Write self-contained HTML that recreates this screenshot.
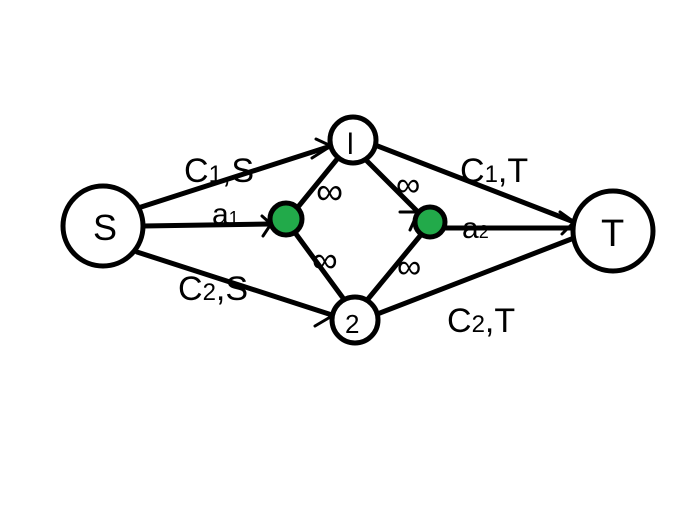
<!DOCTYPE html>
<html><head><style>html,body{margin:0;padding:0;background:#fff;width:698px;height:522px;overflow:hidden}</style></head>
<body>
<svg width="698" height="522" viewBox="0 0 698 522" xmlns="http://www.w3.org/2000/svg">
<g stroke="#000" stroke-width="5" fill="none" stroke-linecap="round">
<line x1="138" y1="208" x2="331" y2="146"/>
<line x1="143" y1="226" x2="270" y2="224"/>
<line x1="137" y1="252" x2="332" y2="315"/>
<line x1="298" y1="207" x2="338" y2="158"/>
<line x1="296" y1="234" x2="343" y2="298"/>
<line x1="366" y1="160" x2="418" y2="212"/>
<line x1="368" y1="299" x2="420" y2="236"/>
<line x1="375" y1="145" x2="574" y2="222"/>
<line x1="445" y1="228" x2="572" y2="228"/>
<line x1="380" y1="313" x2="574" y2="238"/>
</g>
<g stroke="#000" stroke-width="3" fill="none" stroke-linecap="round">
<path d="M316 139 L331 146 L312 158"/>
<path d="M318 311 L332 316 L315 326"/>
<path d="M262 216 L271 224 L263 236"/>
<path d="M560 212 L574 222 L562 234"/>
<path d="M400 212 L418 212 L410 230"/>
</g>
<g stroke="#000" stroke-width="5" fill="#fff">
<circle cx="103" cy="226" r="40"/>
<circle cx="353" cy="140" r="23"/>
<circle cx="355" cy="320" r="23"/>
<circle cx="613" cy="231" r="40"/>
</g>
<g stroke="#000" stroke-width="5" fill="#22aa4a">
<circle cx="286" cy="219" r="16"/>
<circle cx="430" cy="222" r="15"/>
</g>
<g font-family="Liberation Sans, sans-serif" fill="#000">
<text x="93" y="240" font-size="36">S</text>
<text x="347" y="154" font-size="30">l</text>
<text x="345" y="333" font-size="26">2</text>
<text x="601" y="246" font-size="38">T</text>
<text x="184" y="182" font-size="34">C<tspan font-size="24">1</tspan>,S</text>
<text x="212" y="224" font-size="30">a<tspan font-size="18">1</tspan></text>
<text x="178" y="300" font-size="34">C<tspan font-size="24">2</tspan>,S</text>
<text x="460" y="182" font-size="34">C<tspan font-size="24">1</tspan>,T</text>
<text x="462" y="238" font-size="30">a<tspan font-size="18">2</tspan></text>
<text x="447" y="332" font-size="34">C<tspan font-size="24">2</tspan>,T</text>
<text x="316" y="204" font-size="38">∞</text>
<text x="312" y="272" font-size="36">∞</text>
<text x="396" y="196" font-size="34">∞</text>
<text x="397" y="278" font-size="34">∞</text>
</g>
</svg>
</body></html>
